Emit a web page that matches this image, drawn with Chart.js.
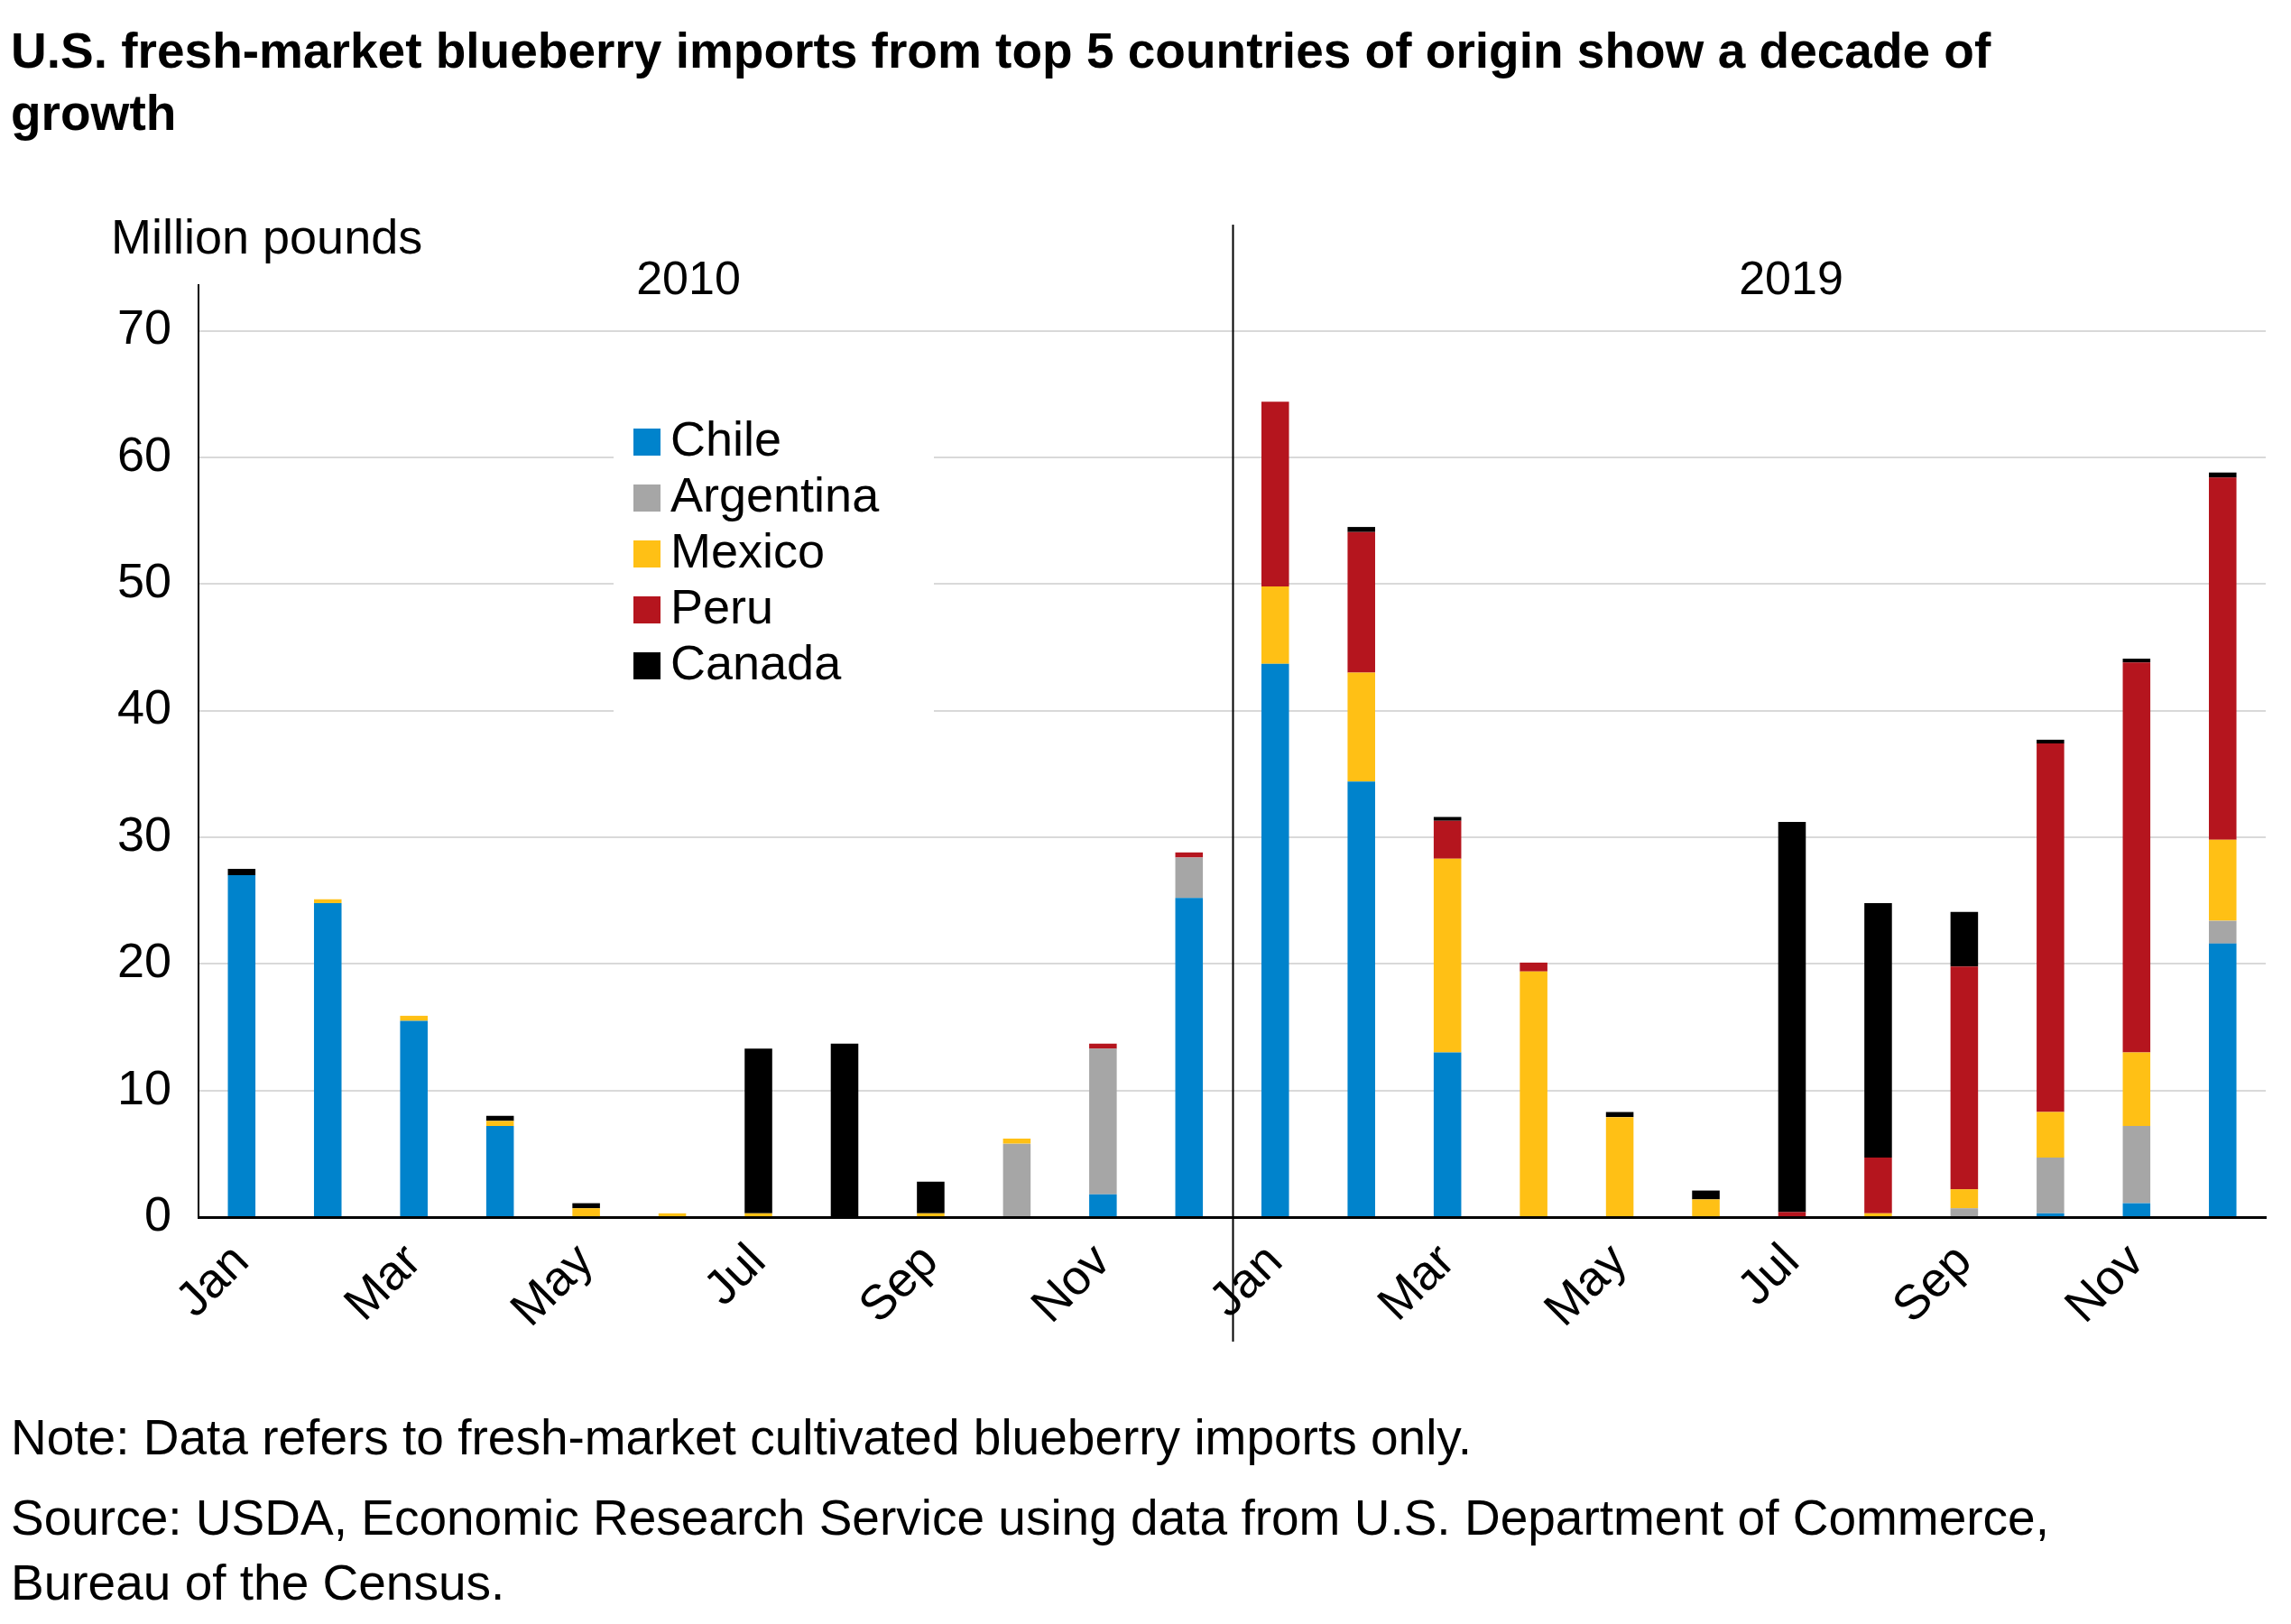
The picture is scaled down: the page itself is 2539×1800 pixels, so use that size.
<!DOCTYPE html>
<html>
<head>
<meta charset="utf-8">
<script src="https://cdn.jsdelivr.net/npm/chart.js@4"></script>
<style>
  body { margin: 0; width: 2539px; height: 1800px; background: #fff; font-family: "Liberation Sans", Arial, sans-serif; position: relative; overflow: hidden; }
  #title { position: absolute; left: 12px; top: 22px; width: 2320px; font-size: 55px; font-weight: bold; line-height: 1.26; color: #000; }
  #wrap { position: absolute; left: 0; top: 230px; width: 2539px; height: 1310px; }
  .note { position: absolute; left: 12px; font-size: 55px; color: #000; line-height: 1.3; }
</style>
</head>
<body>
<div id="title">U.S. fresh-market blueberry imports from top 5 countries of origin show a decade of growth</div>
<div id="wrap"><canvas id="chart"></canvas></div>
<div class="note" style="top:1558px">Note: Data refers to fresh-market cultivated blueberry imports only.</div>
<div class="note" style="top:1647px">Source: USDA, Economic Research Service using data from U.S. Department of Commerce,<br>Bureau of the Census.</div>
<script>
// months Jan-Dec 2010, then Jan-Dec 2019
var months = ["Jan", "", "Mar", "", "May", "", "Jul", "", "Sep", "", "Nov", "",
              "Jan", "", "Mar", "", "May", "", "Jul", "", "Sep", "", "Nov", ""];
var years = ["2010", "2019"];
var chile     = [27.0, 24.8, 15.5, 7.2, 0, 0, 0, 0, 0, 0, 1.8, 25.2,
                 43.7, 34.4, 13.0, 0, 0, 0, 0, 0, 0, 0.3, 1.1, 21.6];
var argentina = [0, 0, 0, 0, 0, 0, 0, 0, 0, 5.8, 11.5, 3.2,
                 0, 0, 0, 0, 0, 0, 0, 0, 0.7, 4.4, 6.1, 1.8];
var mexico    = [0, 0.3, 0.4, 0.4, 0.7, 0.3, 0.3, 0, 0.3, 0.4, 0, 0,
                 6.1, 8.6, 15.3, 19.4, 7.9, 1.4, 0, 0.3, 1.5, 3.6, 5.8, 6.4];
var peru      = [0, 0, 0, 0, 0, 0, 0, 0, 0, 0, 0.4, 0.4,
                 14.6, 11.1, 3.0, 0.7, 0, 0, 0.4, 4.4, 17.6, 29.1, 30.8, 28.6];
var canada    = [0.5, 0, 0, 0.4, 0.4, 0, 13.0, 13.7, 2.5, 0, 0, 0,
                 0, 0.4, 0.3, 0, 0.4, 0.7, 30.8, 20.1, 4.3, 0.3, 0.3, 0.4];
var yTicks = [0, 10, 20, 30, 40, 50, 60, 70];

var series = [
    { label: "Chile", data: chile, color: "#0083cc" },
    { label: "Argentina", data: argentina, color: "#a6a6a6" },
    { label: "Mexico", data: mexico, color: "#ffc015" },
    { label: "Peru", data: peru, color: "#b5151e" },
    { label: "Canada", data: canada, color: "#000000" }
];

var FONT = "'Liberation Sans', Arial, sans-serif";

var extras = {
    id: "extras",
    afterDatasetsDraw: function (chart) {
        var ctx = chart.ctx;
        var x = chart.scales.x;
        ctx.save();
        // legend box
        ctx.fillStyle = "#fff";
        ctx.fillRect(680, 225, 355, 350);
        ctx.font = "54px " + FONT;
        ctx.textBaseline = "middle";
        series.forEach(function (s, i) {
            var ry = 260 + i * 62;
            ctx.fillStyle = s.color;
            ctx.fillRect(702, ry - 15, 30, 30);
            ctx.fillStyle = "#000";
            ctx.fillText(s.label, 743, ry);
        });
        // divider between years
        var dx = Math.round(x.getPixelForValue(11.5)) + 0.5;
        ctx.strokeStyle = "#000";
        ctx.lineWidth = 2;
        ctx.beginPath();
        ctx.moveTo(dx, 19);
        ctx.lineTo(dx, 1257);
        ctx.stroke();
        // year labels
        ctx.font = "52px " + FONT;
        ctx.textAlign = "center";
        ctx.fillStyle = "#000";
        ctx.fillText(years[0], 763, 82);
        ctx.fillText(years[1], 1985, 82);
        ctx.textAlign = "left";
        ctx.font = "54px " + FONT;
        ctx.fillText("Million pounds", 123, 36);
        ctx.restore();
    }
};

new Chart(document.getElementById("chart"), {
    type: "bar",
    data: {
        labels: months,
        datasets: series.map(function (s) {
            return { label: s.label, data: s.data, backgroundColor: s.color, borderWidth: 0 };
        })
    },
    options: {
        responsive: true,
        maintainAspectRatio: false,
        animation: false,
        barPercentage: 0.32,
        categoryPercentage: 1,
        layout: { padding: { left: 100, right: 28, top: 86, bottom: 45 } },
        plugins: { legend: { display: false }, tooltip: { enabled: false } },
        scales: {
            x: {
                stacked: true,
                grid: { display: false },
                border: { color: "#000", width: 3 },
                ticks: {
                    autoSkip: false,
                    maxRotation: 45, minRotation: 45,
                    color: "#000",
                    font: { family: FONT, size: 54 },
                    padding: 10
                }
            },
            y: {
                stacked: true,
                min: 0,
                max: 73.6,
                afterBuildTicks: function (axis) {
                    axis.ticks = yTicks.map(function (v) { return { value: v }; });
                },
                grid: {
                    color: function (c) { return c.tick.value === 0 ? "rgba(0,0,0,0)" : "#d9d9d9"; },
                    lineWidth: 2,
                    drawTicks: false
                },
                border: { color: "#000", width: 2 },
                ticks: {
                    color: "#000",
                    font: { family: FONT, size: 54 },
                    padding: 30
                }
            }
        }
    },
    plugins: [extras]
});
</script>
</body>
</html>
